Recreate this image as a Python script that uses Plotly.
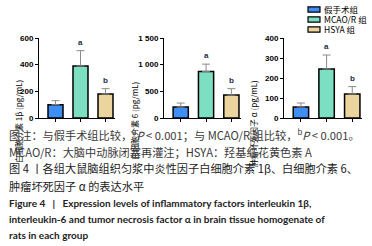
import plotly.graph_objects as go

# ---------------- data ----------------
groups = ["假手术组", "MCAO/R 组", "HSYA 组"]
colors = ["#3f8ef5", "#7ddfc2", "#ebd49e"]

il1b = [100, 390, 180]
il1b_sd = [30, 115, 40]
il6 = [205, 870, 430]
il6_sd = [75, 140, 120]
tnf = [55, 245, 120]
tnf_sd = [20, 70, 37]

sig = ["", "a", "b"]

y_titles = ["白细胞介素 1β (pg/mL)", "白细胞介素 6 (pg/mL)", "肿瘤坏死因子 α (pg/mL)"]
y_ticks = [[0, 200, 400, 600], [0, 500, 1000, 1500], [0, 100, 200, 300, 400]]
y_ticktext = [["0", "200", "400", "600"], ["0", "500", "1 000", "1 500"],
              ["0", "100", "200", "300", "400"]]
y_ranges = [[0, 600], [0, 1500], [0, 400]]

caption_lines = [
    "图注：与假手术组比较，<sup>a</sup><i>P</i> < 0.001；与 MCAO/R 组比较，<sup>b</sup><i>P</i> < 0.001。",
    "MCAO/R：大脑中动脉闭塞再灌注；HSYA：羟基红花黄色素 A",
    "图 4 丨各组大鼠脑组织匀浆中炎性因子白细胞介素 1β、白细胞介素 6、",
    "肿瘤坏死因子 α 的表达水平",
    "<b>Figure 4&nbsp;&nbsp;&nbsp;|&nbsp;&nbsp;&nbsp;Expression levels of inflammatory factors interleukin 1β,</b>",
    "<b>interleukin-6 and tumor necrosis factor α in brain tissue homogenate of</b>",
    "<b>rats in each group</b>",
]

# ---------------- layout helpers ----------------
W, H = 372, 246
def px(x):
    return x / W
def py(y):
    return 1 - y / H

CJK = "Noto Sans CJK SC"
panels = [(il1b, il1b_sd), (il6, il6_sd), (tnf, tnf_sd)]
x_left = [39, 164, 284]
x_right = [115, 241, 362]
y_top, y_bot = 38, 118

fig = go.Figure()
for i, (vals, sds) in enumerate(panels):
    ax = "" if i == 0 else str(i + 1)
    fig.add_trace(go.Bar(
        x=groups, y=vals,
        xaxis="x" + ax, yaxis="y" + ax,
        marker=dict(color=colors, line=dict(color="black", width=1.5)),
        width=0.6,
        error_y=dict(type="data", array=sds, arrayminus=[0] * len(sds),
                     symmetric=False, color="#8a8a8a", thickness=1, width=4),
        showlegend=False, hoverinfo="skip",
    ))
    common_x = dict(
        domain=[px(x_left[i]), px(x_right[i])], anchor="y" + ax,
        range=[-0.66, 2.38], showline=True, linecolor="black", linewidth=1,
        ticks="outside", ticklen=3, tickcolor="black", showticklabels=False,
        showgrid=False, zeroline=False, fixedrange=True, automargin=False,
    )
    common_y = dict(
        domain=[py(y_bot), py(y_top)], anchor="x" + ax,
        range=y_ranges[i], tickmode="array", tickvals=y_ticks[i],
        ticktext=["<b>" + t + "</b>" for t in y_ticktext[i]],
        showticklabels=True, ticklabeloverflow="allow",
        showline=True, linecolor="black", linewidth=1,
        ticks="outside", ticklen=3, tickcolor="black",
        tickfont=dict(family="Liberation Sans", size=8, color="black"),
        showgrid=False, zeroline=False, fixedrange=True, automargin=False,
    )
    fig.update_layout(**{"xaxis" + ax: common_x, "yaxis" + ax: common_y})
    # significance letters
    for g, v, s, l in zip(groups, vals, sds, sig):
        if l:
            fig.add_annotation(x=g, y=v + s, xref="x" + ax, yref="y" + ax,
                               text="<b>" + l + "</b>", showarrow=False,
                               yanchor="bottom", yshift=2,
                               font=dict(family="Liberation Sans", size=8, color="#1e2a48"))

# y axis titles
title_x = [11, 134, 261]
title_y = [78, 80, 78]
for i, t in enumerate(y_titles):
    fig.add_annotation(x=px(title_x[i]), y=py(title_y[i]), xref="paper", yref="paper",
                       text=t, textangle=-90, showarrow=False,
                       font=dict(family=CJK, size=8, color="black"))

# manual legend
leg_rows = [9.5, 19.5, 29.5]
for g, c, yy in zip(groups, colors, leg_rows):
    fig.add_shape(type="rect", xref="paper", yref="paper",
                  x0=px(308), x1=px(320), y0=py(yy + 2.7), y1=py(yy - 2.7),
                  fillcolor=c, line=dict(color="black", width=1.2))
    fig.add_annotation(x=px(322), y=py(yy), xref="paper", yref="paper",
                       text=g, showarrow=False, xanchor="left", yanchor="middle",
                       font=dict(family=CJK, size=8.5, color="black"))

# caption
cap_y = [134, 151.5, 168, 185.5, 203, 219, 235]
cap_font = [
    dict(family=CJK, size=11.2, color="#3a3a3a"),
    dict(family=CJK, size=11.2, color="#3a3a3a"),
    dict(family=CJK, size=11.2, color="#1a1a1a"),
    dict(family=CJK, size=11.2, color="#1a1a1a"),
    dict(family="Lato", size=10, color="#222222"),
    dict(family="Lato", size=10, color="#222222"),
    dict(family="Lato", size=10, color="#222222"),
]
for t, yy, f in zip(caption_lines, cap_y, cap_font):
    fig.add_annotation(x=px(7), y=py(yy), xref="paper", yref="paper",
                       text=t, showarrow=False, xanchor="left", yanchor="middle",
                       font=f)

fig.update_layout(
    width=W, height=H, margin=dict(l=0, r=0, t=0, b=0, pad=0, autoexpand=False),
    paper_bgcolor="white", plot_bgcolor="white",
    showlegend=False, bargap=0.4, hovermode=False,
)
# remove the browser's default 8 px body margin so the figure fills the window
fig.write_html("out.html", config={"displayModeBar": False, "staticPlot": True},
               post_script="document.body.style.margin='0px';document.body.style.overflow='hidden';")
